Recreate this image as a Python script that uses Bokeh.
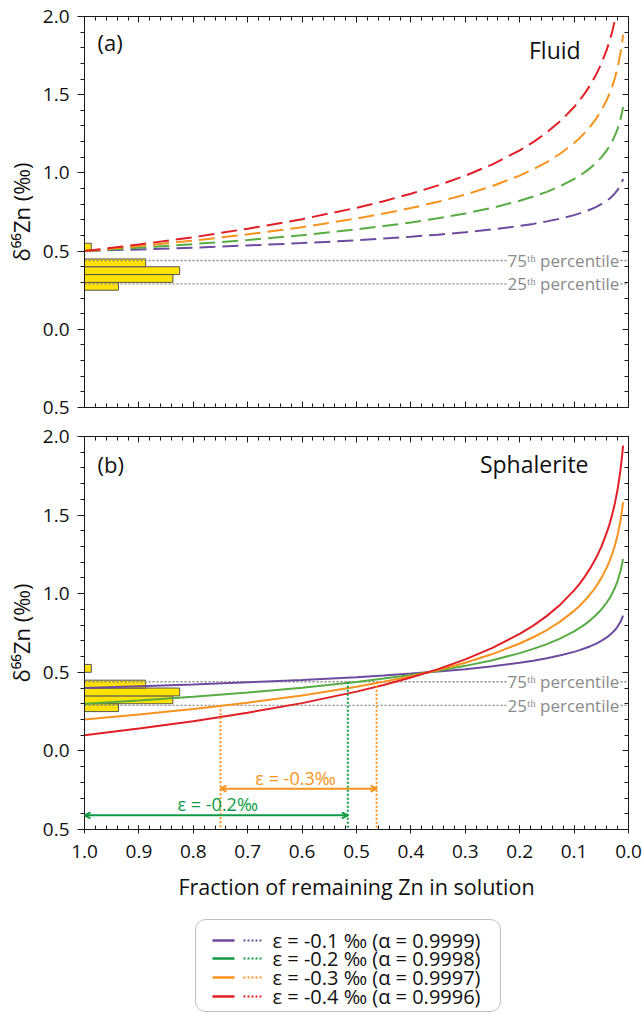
import numpy as np
from bokeh.plotting import figure
from bokeh.layouts import column
from bokeh.models import (Range1d, LinearAxis, FixedTicker, Label, Arrow, OpenHead,
                          BoxAnnotation, ColumnDataSource, CustomLabelingPolicy)
from bokeh.embed import file_html
from bokeh.resources import INLINE
from bokeh.core.properties import value

# ---------------- data ----------------
f_frac = [1.0, 0.9, 0.8, 0.7, 0.6, 0.5, 0.45, 0.4, 0.35, 0.3, 0.25, 0.2, 0.175, 0.15,
          0.125, 0.1, 0.09, 0.08, 0.07, 0.06, 0.05, 0.04, 0.035, 0.03, 0.025, 0.02,
          0.015, 0.012, 0.01]

fluid_e01 = [0.500, 0.511, 0.522, 0.536, 0.551, 0.569, 0.580, 0.592, 0.605, 0.620,
             0.639, 0.661, 0.674, 0.690, 0.708, 0.730, 0.741, 0.753, 0.766, 0.781,
             0.800, 0.822, 0.835, 0.851, 0.869, 0.891, 0.920, 0.942, 0.961]
fluid_e02 = [0.500, 0.521, 0.545, 0.571, 0.602, 0.639, 0.660, 0.683, 0.710, 0.741,
             0.777, 0.822, 0.849, 0.879, 0.916, 0.961, 0.982, 1.005, 1.032, 1.063,
             1.099, 1.144, 1.170, 1.201, 1.238, 1.282, 1.340, 1.385, 1.421]
fluid_e03 = [0.500, 0.532, 0.567, 0.607, 0.653, 0.708, 0.740, 0.775, 0.815, 0.861,
             0.916, 0.983, 1.023, 1.069, 1.124, 1.191, 1.222, 1.258, 1.298, 1.344,
             1.399, 1.466, 1.506, 1.552, 1.607, 1.674, 1.760, 1.827, 1.882]
fluid_e04 = [0.500, 0.542, 0.589, 0.643, 0.704, 0.777, 0.819, 0.867, 0.920, 0.982,
             1.055, 1.144, 1.197, 1.259, 1.332, 1.421, 1.463, 1.510, 1.564, 1.625,
             1.698, 1.788, 1.841, 1.903, 1.976, 2.065, 2.180, 2.269, 2.342]

sph_e01 = [0.400, 0.411, 0.422, 0.436, 0.451, 0.469, 0.480, 0.492, 0.505, 0.520,
           0.539, 0.561, 0.574, 0.590, 0.608, 0.630, 0.641, 0.653, 0.666, 0.681,
           0.700, 0.722, 0.735, 0.751, 0.769, 0.791, 0.820, 0.842, 0.861]
sph_e02 = [0.300, 0.321, 0.345, 0.371, 0.402, 0.439, 0.460, 0.483, 0.510, 0.541,
           0.577, 0.622, 0.649, 0.679, 0.716, 0.761, 0.782, 0.805, 0.832, 0.863,
           0.899, 0.944, 0.970, 1.001, 1.038, 1.082, 1.140, 1.185, 1.221]
sph_e03 = [0.200, 0.232, 0.267, 0.307, 0.353, 0.408, 0.440, 0.475, 0.515, 0.561,
           0.616, 0.683, 0.723, 0.769, 0.824, 0.891, 0.922, 0.958, 0.998, 1.044,
           1.099, 1.166, 1.206, 1.252, 1.307, 1.374, 1.460, 1.527, 1.582]
sph_e04 = [0.100, 0.142, 0.189, 0.243, 0.304, 0.377, 0.419, 0.467, 0.520, 0.582,
           0.655, 0.744, 0.797, 0.859, 0.932, 1.021, 1.063, 1.110, 1.164, 1.225,
           1.298, 1.388, 1.441, 1.503, 1.576, 1.665, 1.780, 1.869, 1.942]

hist_lo = [0.25, 0.30, 0.35, 0.40, 0.45, 0.50]
hist_hi = [0.30, 0.35, 0.40, 0.45, 0.50, 0.55]
hist_counts = [5, 13, 14, 9, 0, 1]

pct25 = 0.29
pct75 = 0.44

# fractions where the sphalerite curves cross the percentiles
vline_x = [0.75, 0.463, 0.516]
vline_top = [0.29, 0.44, 0.44]

arrow02 = (1.0, 0.516, -0.41)
arrow03 = (0.75, 0.463, -0.24)

legend_labels = ["ε = -0.1 ‰ (α = 0.9999)", "ε = -0.2 ‰ (α = 0.9998)",
                 "ε = -0.3 ‰ (α = 0.9997)", "ε = -0.4 ‰ (α = 0.9996)"]

x_ticks = [1.0, 0.9, 0.8, 0.7, 0.6, 0.5, 0.4, 0.3, 0.2, 0.1, 0.0]
x_tick_labels = ["1.0", "0.9", "0.8", "0.7", "0.6", "0.5", "0.4", "0.3", "0.2", "0.1", "0.0"]
y_ticks = [-0.5, 0.0, 0.5, 1.0, 1.5, 2.0]
y_tick_labels = ["0.5", "0.0", "0.5", "1.0", "1.5", "2.0"]

# ---------------- styles ----------------
FONT = "Open Sans"
INK = "#111111"
C_CURVE = ["#6D4C9F", "#57AC43", "#F7931E", "#E01F26"]
C_LEG = ["#6D4C9F", "#109A48", "#F7931E", "#E01F26"]
GREEN2 = "#109A48"
ORANGE = "#F7931E"
GREY = "#8A8A8A"

x_minor = [round(v, 2) for v in np.arange(0.0, 1.0001, 0.02)]
y_minor = [round(v, 2) for v in np.arange(-0.5, 2.0001, 0.1)]


def hidden_axis(**kw):
    # tick marks only: the labeling policy keeps no tick label
    return LinearAxis(major_label_policy=CustomLabelingPolicy(code=""),
                      major_label_standoff=0,
                      major_tick_in=6, major_tick_out=0, minor_tick_in=4,
                      minor_tick_out=0, **kw)


def add_axes(p, show_x_labels):
    yl = LinearAxis(ticker=FixedTicker(ticks=y_ticks, minor_ticks=y_minor),
                    major_label_overrides={t: s for t, s in zip(y_ticks, y_tick_labels)},
                    axis_label="δ⁶⁶Zn (‰)", axis_label_text_font=FONT,
                    axis_label_text_font_size="22px", axis_label_text_font_style="normal",
                    axis_label_standoff=4,
                    major_label_text_font=FONT, major_label_text_font_size="19px",
                    major_label_standoff=8,
                    major_tick_in=0, major_tick_out=7, minor_tick_in=0, minor_tick_out=4)
    p.add_layout(yl, "left")
    yr = hidden_axis(ticker=FixedTicker(ticks=y_ticks, minor_ticks=y_minor))
    p.add_layout(yr, "right")
    xt = hidden_axis(ticker=FixedTicker(ticks=x_ticks, minor_ticks=x_minor))
    p.add_layout(xt, "above")
    if show_x_labels:
        xb = LinearAxis(ticker=FixedTicker(ticks=x_ticks, minor_ticks=x_minor),
                        major_label_overrides={t: s for t, s in zip(x_ticks, x_tick_labels)},
                        major_label_text_font=FONT, major_label_text_font_size="19px",
                        major_label_standoff=11,
                        axis_label="Fraction of remaining Zn in solution",
                        axis_label_text_font=FONT, axis_label_text_font_size="21.5px",
                        axis_label_text_font_style="normal", axis_label_standoff=11,
                        major_tick_in=4, major_tick_out=4, minor_tick_in=4, minor_tick_out=0)
    else:
        xb = hidden_axis(ticker=FixedTicker(ticks=x_ticks, minor_ticks=x_minor))
    p.add_layout(xb, "below")
    for ax in (yl, yr, xt, xb):
        ax.axis_line_color = "#1A1A1A"
        ax.major_tick_line_color = "#1A1A1A"
        ax.minor_tick_line_color = "#1A1A1A"
        ax.major_label_text_color = INK
        ax.axis_label_text_color = INK


def make_panel(frame_h, b_top, b_bottom, show_x_labels):
    p = figure(frame_width=544, frame_height=frame_h,
               x_range=Range1d(1.0, 0.0), y_range=Range1d(-0.5, 2.0),
               output_backend="svg", toolbar_location=None,
               x_axis_location=None, y_axis_location=None,
               min_border_left=84, min_border_right=14,
               min_border_top=b_top, min_border_bottom=b_bottom)
    p.grid.visible = False
    p.outline_line_color = "#1A1A1A"
    p.background_fill_color = "white"
    p.border_fill_color = "white"
    add_axes(p, show_x_labels)
    # histogram
    keep = [i for i, c in enumerate(hist_counts) if c > 0]
    src = ColumnDataSource(dict(
        y=[(hist_lo[i] + hist_hi[i]) / 2 for i in keep],
        h=[hist_hi[i] - hist_lo[i] for i in keep],
        right=[1.0 - hist_counts[i] * 0.0125 for i in keep]))
    p.hbar(y="y", height="h", left=1.0, right="right", source=src,
           fill_color="#FFE200", line_color="#555555", line_width=1)
    # percentiles
    for v, lab in ((pct75, "75ᵗʰ percentile"), (pct25, "25ᵗʰ percentile")):
        p.segment(x0=1.0, y0=v, x1=0.0, y1=v, line_color=GREY, line_width=1.3,
                  line_dash="2 2")
        p.add_layout(Label(x=0.2206, y=v, text=lab, text_align="left",
                           text_baseline="middle", text_font=FONT,
                           text_font_size="17px", text_color=GREY,
                           background_fill_color="white", x_offset=-1))
    return p


top = make_panel(391, 16, 15, False)
bot = make_panel(393, 14, 80, True)

fluids = [fluid_e01, fluid_e02, fluid_e03, fluid_e04]
sphs = [sph_e01, sph_e02, sph_e03, sph_e04]
for ys, c in zip(fluids, C_CURVE):
    top.line(f_frac, ys, line_color=c, line_width=2, line_dash="16 7")
for ys, c in zip(sphs, C_CURVE):
    bot.line(f_frac, ys, line_color=c, line_width=2)

# panel labels
top.add_layout(Label(x=0.976, y=1.834, text="(a)", text_baseline="middle",
                     text_font=FONT, text_font_size="22px", text_color=INK))
top.add_layout(Label(x=0.088, y=1.783, text="Fluid", text_align="right",
                     text_baseline="middle", text_font=FONT, text_font_size="23px",
                     text_color=INK))
bot.add_layout(Label(x=0.976, y=1.828, text="(b)", text_baseline="middle",
                     text_font=FONT, text_font_size="22px", text_color=INK))
bot.add_layout(Label(x=0.0735, y=1.828, text="Sphalerite", text_align="right",
                     text_baseline="middle", text_font=FONT, text_font_size="23px",
                     text_color=INK))

# dotted verticals
bot.segment(x0=vline_x, y0=vline_top, x1=vline_x, y1=[-0.5] * len(vline_x),
            line_color=[ORANGE, ORANGE, GREEN2], line_width=2, line_dash="2 2")

# arrows
for (xa, xb_, ya), col in ((arrow02, GREEN2), (arrow03, ORANGE)):
    bot.add_layout(Arrow(start=OpenHead(size=6, line_color=col, line_width=2),
                         end=OpenHead(size=6, line_color=col, line_width=2),
                         x_start=xa, y_start=ya, x_end=xb_, y_end=ya,
                         line_color=col, line_width=2))
bot.add_layout(Label(x=0.612, y=-0.17, text="ε = -0.3‰", text_align="center",
                     text_baseline="middle", text_font=FONT, text_font_size="18px",
                     text_color=ORANGE))
bot.add_layout(Label(x=0.755, y=-0.335, text="ε = -0.2‰", text_align="center",
                     text_baseline="middle", text_font=FONT, text_font_size="18px",
                     text_color=GREEN2))

# legend panel (coordinates in page pixels; frame aligned with the panels)
leg = figure(frame_width=544, frame_height=106, x_range=Range1d(84, 628),
             y_range=Range1d(106, 0), output_backend="svg", toolbar_location=None,
             min_border_left=84, min_border_right=14, min_border_top=0,
             min_border_bottom=0, x_axis_location=None, y_axis_location=None)
leg.grid.visible = False
leg.outline_line_color = None
leg.add_layout(BoxAnnotation(left=195, right=500, top=10, bottom=102, border_radius=10,
                             fill_color="white", fill_alpha=1, line_color="#333333",
                             line_width=1, level="underlay"))
rows = [31, 49, 68, 87]
leg.segment(x0=[212] * 4, y0=rows, x1=[234] * 4, y1=rows, line_color=C_LEG, line_width=2.5)
leg.segment(x0=[243] * 4, y0=rows, x1=[263] * 4, y1=rows, line_color=C_LEG, line_width=2,
            line_dash="2 2")
leg.text(x=[272] * 4, y=rows, text=legend_labels, text_baseline="middle",
         text_font=value(FONT), text_font_size="20px", text_color=INK)

layout = column(top, bot, leg, spacing=0)
open("out.html", "w").write(file_html(layout, INLINE))
